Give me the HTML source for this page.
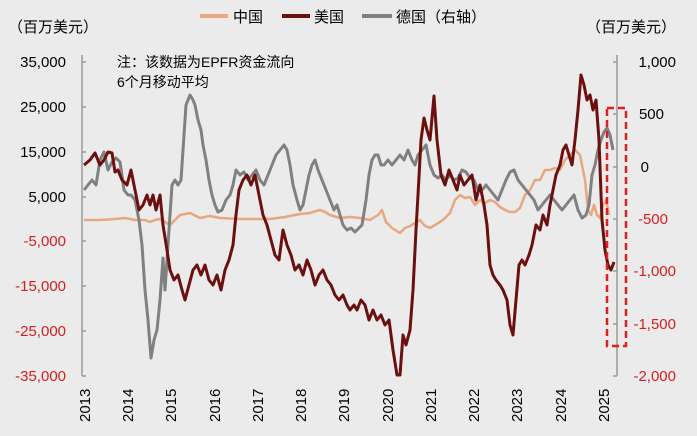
<!DOCTYPE html><html><head><meta charset="utf-8"><style>
body{margin:0;background:#ebebeb;}
svg{display:block;font-family:"Liberation Sans","Noto Sans CJK SC",sans-serif;}
</style></head><body>
<svg width="697" height="436" viewBox="0 0 697 436" xmlns="http://www.w3.org/2000/svg">
<rect width="697" height="436" fill="#ebebeb"/>
<g font-size="15">
<line x1="200" y1="16" x2="228" y2="16" stroke="#e8a77f" stroke-width="4"/><text x="233" y="22">中国</text>
<line x1="282" y1="16" x2="310" y2="16" stroke="#6b0f0f" stroke-width="4"/><text x="314" y="22">美国</text>
<line x1="362" y1="16" x2="392" y2="16" stroke="#808080" stroke-width="4"/><text x="396" y="22">德国（右轴）</text>
<text x="8" y="32">（百万美元）</text>
<text x="586" y="32">（百万美元）</text>
</g>
<g font-size="14"><text x="117" y="67">注：该数据为EPFR资金流向</text><text x="117" y="87">6个月移动平均</text></g>
<g stroke="#999" stroke-width="1.5" fill="none">
<line x1="82" y1="55" x2="82" y2="376"/>
<line x1="617" y1="55" x2="617" y2="376"/>
<path d="M82 62h4M82 107h4M82 152h4M82 197h4M82 241h4M82 286h4M82 331h4M82 376h4M617 62h-4M617 114h-4M617 167h-4M617 219h-4M617 271h-4M617 324h-4M617 376h-4"/>
</g>
<g font-size="15" text-anchor="end">
<text x="66" y="67">35,000</text><text x="66" y="112">25,000</text><text x="66" y="157">15,000</text><text x="66" y="202">5,000</text>
<g fill="#d42020"><text x="66" y="246">-5,000</text><text x="66" y="291">-15,000</text><text x="66" y="336">-25,000</text><text x="66" y="381">-35,000</text></g>
</g>
<g font-size="15" text-anchor="end">
<text x="676" y="67">1,000</text><text x="664" y="119">500</text><text x="649" y="172">0</text>
<g fill="#d42020"><text x="668" y="224">-500</text><text x="676" y="276">-1,000</text><text x="676" y="329">-1,500</text><text x="676" y="381">-2,000</text></g>
</g>
<g font-size="15">
<text transform="translate(90,422) rotate(-90)">2013</text>
<text transform="translate(133,422) rotate(-90)">2014</text>
<text transform="translate(176,422) rotate(-90)">2015</text>
<text transform="translate(220,422) rotate(-90)">2016</text>
<text transform="translate(263,422) rotate(-90)">2017</text>
<text transform="translate(306,422) rotate(-90)">2018</text>
<text transform="translate(349,422) rotate(-90)">2019</text>
<text transform="translate(393,422) rotate(-90)">2020</text>
<text transform="translate(436,422) rotate(-90)">2021</text>
<text transform="translate(479,422) rotate(-90)">2022</text>
<text transform="translate(522,422) rotate(-90)">2023</text>
<text transform="translate(566,422) rotate(-90)">2024</text>
<text transform="translate(609,422) rotate(-90)">2025</text>
</g>
<polyline fill="none" stroke="#e8a77f" stroke-width="2.5" stroke-linejoin="round" points="84,220 100,220 115,219 125,218 135,220 145,220 150,222 155,220 160,219 165,222 170,225 175,220 180,215 190,213 200,218 210,216 220,218 240,219 270,219 285,217 300,214 310,213 316,211 320,210 325,212 330,215 340,218 350,217 360,218 370,220 378,215 382,210 386,222 392,228 400,233 405,228 410,226 415,223 420,220 425,226 430,228 435,225 440,222 445,218 450,213 455,200 460,195 465,198 470,197 475,205 480,200 485,203 490,200 495,202 500,207 505,210 510,212 515,212 520,208 525,195 530,190 535,180 540,180 545,170 550,170 555,168 560,170 565,160 570,155 575,150 580,155 585,180 588,210 591,215 594,205 597,215 600,218 603,205 606,200 609,215"/>
<polyline fill="none" stroke="#808080" stroke-width="3" stroke-linejoin="round" points="84,190 88,185 92,180 96,185 100,160 104,152 108,170 112,162 116,158 120,162 124,190 128,195 131,195 135,200 139,220 142,245 145,290 148,320 151,358 154,340 157,330 160,300 163,258 165,290 167,260 169,230 172,185 175,180 178,185 181,180 184,135 186,105 188,100 190,95 193,100 195,105 198,120 201,130 203,145 206,160 209,180 212,195 215,205 218,212 222,210 226,200 230,195 233,185 236,170 240,175 244,172 248,180 252,175 256,170 260,180 264,185 268,175 272,165 276,155 280,150 284,145 287,150 290,165 293,185 297,200 300,210 303,205 306,190 309,175 312,165 315,160 318,170 322,180 326,190 330,200 334,210 337,205 340,215 343,225 347,230 351,228 355,232 359,228 362,225 366,200 369,175 372,160 375,155 378,155 381,165 384,165 388,160 392,165 396,160 400,155 404,160 408,150 412,160 415,165 418,155 422,150 426,145 430,165 434,175 438,178 442,175 446,180 450,175 454,180 458,178 462,170 466,172 470,178 474,180 478,190 482,190 486,185 490,190 494,195 498,200 502,190 506,180 510,172 514,170 518,180 522,185 526,190 530,195 534,200 538,210 542,205 546,200 550,195 554,200 558,205 562,210 566,205 570,200 574,195 578,210 582,218 586,215 589,205 592,175 595,165 598,150 601,140 604,132 607,128 610,135 613,150"/>
<polyline fill="none" stroke="#6b0f0f" stroke-width="3" stroke-linejoin="round" points="84,165 90,160 95,153 100,165 104,160 108,152 112,153 115,172 118,170 122,180 127,185 131,170 135,190 139,210 143,205 147,195 150,205 153,195 156,210 160,195 163,225 167,250 170,270 174,280 178,275 182,290 185,300 189,285 193,270 197,265 201,275 205,265 209,280 213,285 217,275 221,290 225,270 229,260 233,245 236,215 239,190 243,180 247,175 251,185 255,175 259,195 263,215 267,225 271,240 275,255 279,260 283,230 287,245 291,255 295,270 299,265 303,275 307,260 311,270 315,285 319,275 323,270 327,280 331,285 335,295 339,300 343,295 347,305 350,310 354,305 357,310 361,300 365,305 369,320 373,310 377,320 381,315 385,325 389,320 393,350 397,375 400,375 403,335 406,345 410,330 413,290 416,230 418,195 421,140 424,118 427,130 430,140 434,96 437,140 441,175 445,185 449,170 453,180 457,190 460,175 464,185 468,180 472,175 476,200 480,185 484,205 487,225 490,265 493,275 496,280 500,285 503,290 507,300 510,325 513,335 516,300 519,265 522,260 525,265 529,255 532,245 536,225 540,230 543,215 547,225 550,205 553,190 556,175 560,165 563,150 566,145 569,155 572,165 575,140 578,110 581,75 584,85 587,100 590,95 593,110 596,100 599,140 602,220 605,250 608,265 611,270 614,262"/>
<rect x="607" y="108" width="19" height="238" fill="none" stroke="#e02020" stroke-width="2.5" stroke-dasharray="7,4"/>
</svg>
</body></html>
